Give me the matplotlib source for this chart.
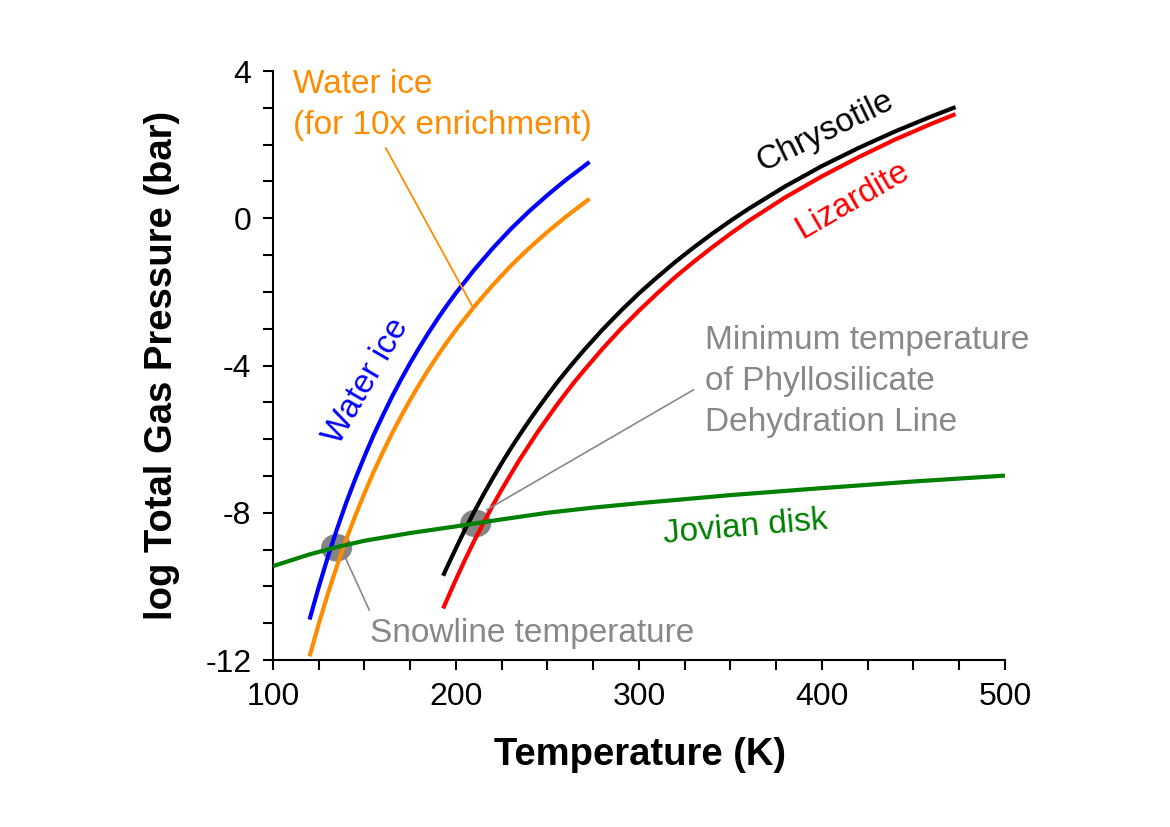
import matplotlib
matplotlib.use("Agg")
import matplotlib.pyplot as plt
from matplotlib.patches import Ellipse
from matplotlib.ticker import MultipleLocator

plt.rcParams['font.family'] = ['Liberation Sans', 'DejaVu Sans']

# water ice curves (K, log bar)
ICE_T = [120, 125, 130, 135, 140, 145, 150, 155, 160, 165, 170, 175, 180, 185, 190, 195,
         200, 210, 220, 230, 240, 250, 260, 273]
ICE = [-10.90, -10.02, -9.20, -8.44, -7.73, -7.08, -6.47, -5.89, -5.36, -4.85, -4.38, -3.93,
       -3.51, -3.11, -2.73, -2.37, -2.03, -1.40, -0.82, -0.29, 0.19, 0.63, 1.04, 1.53]
ICE_10X = [-11.90, -11.02, -10.20, -9.44, -8.73, -8.08, -7.47, -6.89, -6.36, -5.85, -5.38, -4.93,
           -4.51, -4.11, -3.73, -3.37, -3.03, -2.40, -1.82, -1.29, -0.81, -0.37, 0.04, 0.53]

# phyllosilicate dehydration
PHYL_T = [193, 195, 200, 205, 210, 215, 220, 225, 230, 235, 240, 245, 250, 255, 260, 265, 270,
          280, 290, 300, 310, 320, 330, 340, 350, 360, 380, 400, 420, 440, 460, 473]
CHRYSOTILE = [-9.71, -9.49, -8.96, -8.45, -7.97, -7.51, -7.07, -6.65, -6.25, -5.87, -5.50, -5.15,
              -4.81, -4.48, -4.17, -3.87, -3.58, -3.03, -2.52, -2.04, -1.60, -1.18, -0.79, -0.42,
              -0.07, 0.26, 0.87, 1.42, 1.91, 2.36, 2.77, 3.02]
LIZARDITE = [-10.60, -10.37, -9.81, -9.27, -8.76, -8.28, -7.81, -7.37, -6.95, -6.54, -6.16, -5.78,
             -5.43, -5.08, -4.75, -4.43, -4.13, -3.55, -3.01, -2.51, -2.04, -1.59, -1.18, -0.79,
             -0.42, -0.07, 0.57, 1.14, 1.66, 2.14, 2.57, 2.83]

# jovian disk
DISK_T = [100, 110, 120, 135, 150, 175, 200, 225, 250, 275, 300, 325, 350, 400, 450, 500]
DISK = [-9.45, -9.29, -9.13, -8.93, -8.76, -8.55, -8.37, -8.18, -8.00, -7.86, -7.74, -7.63,
        -7.52, -7.33, -7.15, -6.99]

# marked intersections
SNOWLINE = (134.8, -8.95)
DEHYD_MIN = (210.8, -8.29)

ORANGE = '#ff8c00'
GREEN = '#008000'
GREY = '#888888'
FS = 24

fig = plt.figure(figsize=(11.7, 8.27), dpi=100)
ax = fig.add_axes([0.2333, 0.2019, 0.6256, 0.7122])

for c in (SNOWLINE, DEHYD_MIN):
    ax.add_patch(Ellipse(c, 17, 0.75, color='#858585', zorder=2, lw=0))

ax.plot(ICE_T, ICE, color='blue', lw=3, solid_capstyle='butt', zorder=3)
ax.plot(ICE_T, ICE_10X, color=ORANGE, lw=3, solid_capstyle='butt', zorder=3)
ax.plot(PHYL_T, CHRYSOTILE, color='black', lw=3, solid_capstyle='butt', zorder=3)
ax.plot(PHYL_T, LIZARDITE, color='red', lw=3, solid_capstyle='butt', zorder=3)
ax.plot(DISK_T, DISK, color=GREEN, lw=3, solid_capstyle='butt', zorder=3)

# leader lines
ax.plot([161.7, 209.5], [1.905, -2.44], color=ORANGE, lw=1.3, zorder=4)
ax.plot([216.8, 329.8], [-7.92, -4.66], color=GREY, lw=1.2, zorder=4)
ax.plot([139.3, 152.6], [-9.19, -10.64], color=GREY, lw=1.2, zorder=4)

# labels
ax.text(111.1, 3.40, 'Water ice', color=ORANGE, fontsize=FS, va='baseline')
ax.text(111.1, 2.29, '(for 10x enrichment)', color=ORANGE, fontsize=FS, va='baseline')
ax.text(151.2, -4.44, 'Water ice', color='blue', fontsize=FS, rotation=60,
        rotation_mode='anchor', ha='center', va='center')
ax.text(402.0, 2.36, 'Chrysotile', color='black', fontsize=FS, rotation=26,
        rotation_mode='anchor', ha='center', va='center')
ax.text(416.6, 0.50, 'Lizardite', color='red', fontsize=FS, rotation=30,
        rotation_mode='anchor', ha='center', va='center')
ax.text(357.9, -8.39, 'Jovian disk', color=GREEN, fontsize=FS, rotation=5,
        rotation_mode='anchor', ha='center', va='center')
for txt, y in zip(['Minimum temperature', 'of Phyllosilicate', 'Dehydration Line'],
                  [-3.55, -4.66, -5.77]):
    ax.text(336.1, y, txt, color=GREY, fontsize=FS, va='baseline')
ax.text(153.0, -11.51, 'Snowline temperature', color=GREY, fontsize=FS, va='baseline')

ax.set_xlim(100, 500)
ax.set_ylim(-12, 4)
ax.xaxis.set_major_locator(MultipleLocator(100))
ax.xaxis.set_minor_locator(MultipleLocator(25))
ax.yaxis.set_major_locator(MultipleLocator(4))
ax.yaxis.set_minor_locator(MultipleLocator(1))
ax.spines['top'].set_visible(False)
ax.spines['right'].set_visible(False)
ax.spines['left'].set_linewidth(1.5)
ax.spines['bottom'].set_linewidth(1.5)
ax.tick_params(which='both', direction='out', length=7.5, width=1.5, labelsize=23)
ax.tick_params(axis='x', which='both', pad=8)
ax.tick_params(axis='y', which='both', pad=8)
ax.set_yticks([-12, -8, -4, 0, 4])
ax.set_yticklabels(['-12', '-8', '-4', '0', '4'])

fig.text(161.5 / 1170, 1 - 365 / 827, 'log Total Gas Pressure (bar)', fontsize=27.5,
         fontweight='bold', rotation=90, ha='center', va='center')
fig.text(640 / 1170, 1 - 755 / 827, 'Temperature (K)', fontsize=27.5,
         fontweight='bold', ha='center', va='center')

fig.savefig('out.png', dpi=100)
